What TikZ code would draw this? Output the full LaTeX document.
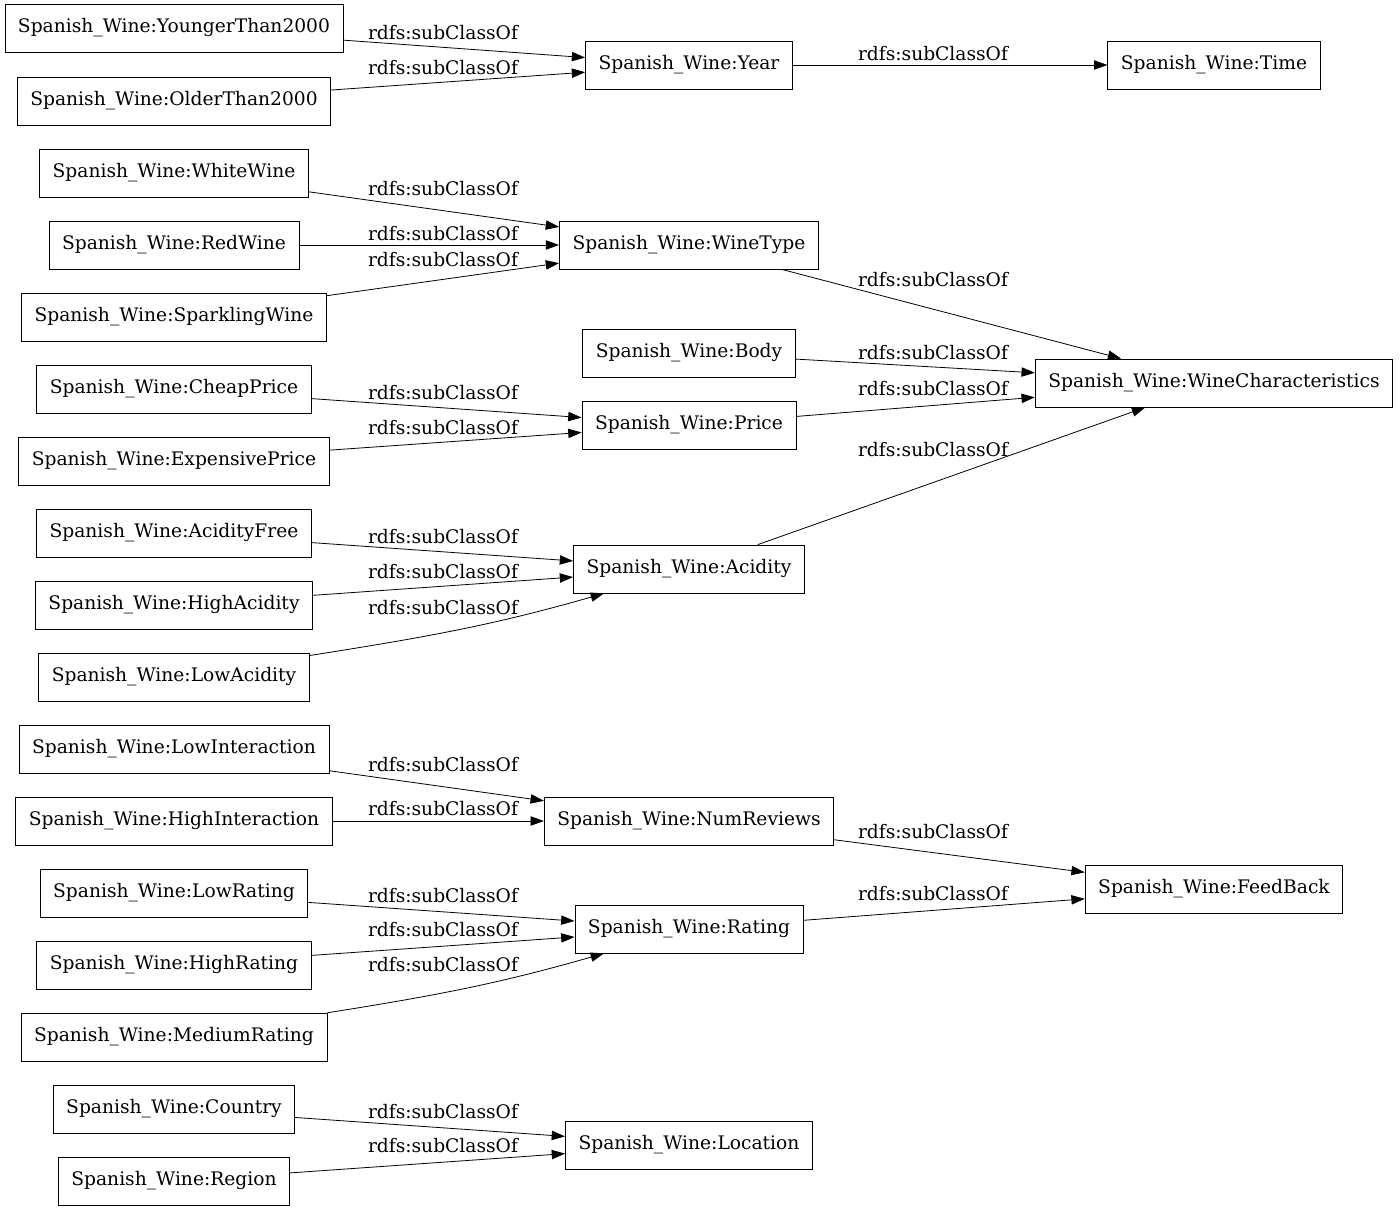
\documentclass[tikz,border=0pt]{standalone}
\usepackage{fontspec}
\setmainfont{DejaVu Serif}
\usetikzlibrary{arrows.meta}
\newcommand\sw{Spanish\_Wine:}
\tikzset{
  cls/.style={draw, line width=0.6pt, minimum height=36pt, inner xsep=9.8pt, inner ysep=0pt, font=\fontsize{14}{16}\selectfont},
  lbl/.style={inner sep=0pt, font=\fontsize{14}{16}\selectfont},
  sub/.style={line width=0.6pt, -{Triangle[length=10pt,width=7pt]}},
}
\begin{document}
\begin{tikzpicture}[x=0.75pt, y=-0.75pt]
  \useasboundingbox (0,0) rectangle (1400,1211);
  % left column
  \node[cls] (younger) at (174,28) {\sw YoungerThan2000};
  \node[cls] (older) at (174,101) {\sw OlderThan2000};
  \node[cls] (white) at (174,173) {\sw WhiteWine};
  \node[cls] (red) at (174,245) {\sw RedWine};
  \node[cls] (sparkling) at (174,317) {\sw SparklingWine};
  \node[cls] (cheap) at (174,389) {\sw CheapPrice};
  \node[cls] (expensive) at (174,461) {\sw ExpensivePrice};
  \node[cls] (acidfree) at (174,533) {\sw AcidityFree};
  \node[cls] (highacid) at (174,605) {\sw HighAcidity};
  \node[cls] (lowacid) at (174,677) {\sw LowAcidity};
  \node[cls] (lowinter) at (174,749) {\sw LowInteraction};
  \node[cls] (highinter) at (174,821) {\sw HighInteraction};
  \node[cls] (lowrate) at (174,893) {\sw LowRating};
  \node[cls] (highrate) at (174,965) {\sw HighRating};
  \node[cls] (medrate) at (174,1037) {\sw MediumRating};
  \node[cls] (country) at (174,1109) {\sw Country};
  \node[cls] (region) at (174,1181) {\sw Region};
  % middle column
  \node[cls] (year) at (689,65) {\sw Year};
  \node[cls] (winetype) at (689,245) {\sw WineType};
  \node[cls] (body) at (689,353) {\sw Body};
  \node[cls] (price) at (689,425) {\sw Price};
  \node[cls] (acidity) at (689,569) {\sw Acidity};
  \node[cls] (numrev) at (689,821) {\sw NumReviews};
  \node[cls] (rating) at (689,929) {\sw Rating};
  \node[cls] (location) at (689,1145) {\sw Location};
  % right column
  \node[cls] (time) at (1214,65) {\sw Time};
  \node[cls] (winechar) at (1214,383) {\sw WineCharacteristics};
  \node[cls] (feedback) at (1214,889) {\sw FeedBack};
  % subclass edges
  \foreach \s/\t/\lx/\ly in {younger/year/443/33, older/year/443/68, year/time/933/54,
      white/winetype/443/189, red/winetype/443/234, sparkling/winetype/443/260,
      winetype/winechar/933/280, body/winechar/933/353, price/winechar/933/389,
      acidity/winechar/933/450, cheap/price/443/393, expensive/price/443/428,
      acidfree/acidity/443/537, highacid/acidity/443/572,
      lowinter/numrev/443/765, highinter/numrev/443/809, numrev/feedback/933/832,
      lowrate/rating/443/896, highrate/rating/443/930, rating/feedback/933/894,
      country/location/443/1112, region/location/443/1146}
    \draw[sub] (\s) -- (\t) node[lbl] (l-\s) at (\lx,\ly) {rdfs:subClassOf};
  \draw[sub] (lowacid) to[out=9, in=196] (acidity);
  \node[lbl] (l-lowacid) at (443,608) {rdfs:subClassOf};
  \draw[sub] (medrate) to[out=9, in=196] (rating);
  \node[lbl] (l-medrate) at (443,965) {rdfs:subClassOf};
\end{tikzpicture}
\end{document}
